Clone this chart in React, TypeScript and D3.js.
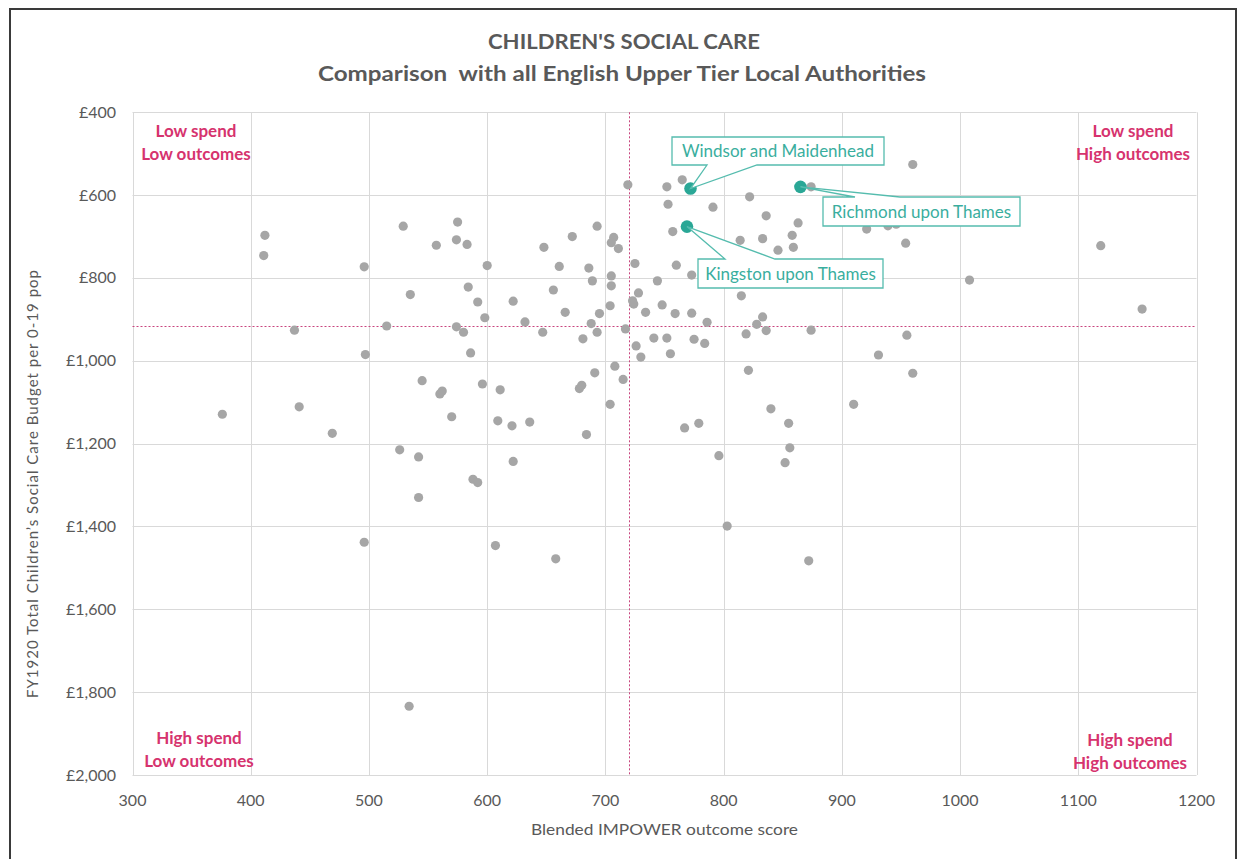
import React from "react";
import * as d3 from "d3";

// Blended IMPOWER outcome score for each English upper tier local authority
const outcomeScores: number[] = [
  376, 412, 411, 437, 441, 469, 496, 497, 496, 515, 529, 535, 526, 534, 542, 542, 545, 557, 560, 562,
  570, 575, 574, 574, 580, 583, 584, 586, 592, 598, 600, 596, 588, 592, 607, 611, 609, 621, 622, 622,
  632, 636, 647, 648, 656, 658, 661, 666, 672, 678, 680, 681, 684, 686, 688, 689, 691, 693, 693, 695,
  704, 705, 705, 707, 705, 711, 704, 708, 715, 717, 719, 723, 724, 725, 726, 728, 730, 734, 741, 744,
  748, 752, 752, 753, 755, 757, 759, 760, 765, 767, 773, 773, 775, 779, 784, 786, 791, 796, 803, 814,
  815, 819, 822, 821, 828, 833, 833, 836, 836, 840, 846, 855, 856, 852, 858, 859, 863, 872, 874, 874,
  910, 921, 931, 939, 946, 954, 955, 960, 960, 1008, 1119, 1154,
];

// FY1920 total children's social care budget per 0-19 population (£)
const budgets: number[] = [
  1129, 697, 746, 926, 1111, 1175, 773, 985, 1438, 916, 675, 840, 1215, 1834, 1232, 1330, 1048, 721, 1080, 1073,
  1135, 665, 708, 918, 931, 719, 822, 981, 858, 896, 770, 1056, 1286, 1294, 1446, 1070, 1145, 1157, 1243, 856,
  906, 1148, 931, 726, 829, 1478, 772, 883, 700, 1067, 1059, 947, 1178, 776, 910, 807, 1029, 675, 931, 886,
  867, 819, 795, 702, 715, 729, 1105, 1013, 1045, 923, 575, 855, 863, 765, 964, 836, 991, 883, 945, 807,
  865, 945, 580, 622, 983, 688, 886, 769, 563, 1162, 793, 885, 948, 1151, 958, 907, 629, 1229, 1399, 709,
  843, 935, 604, 1023, 912, 705, 894, 927, 650, 1116, 733, 1151, 1210, 1246, 697, 726, 667, 1483, 580, 926,
  1105, 682, 986, 674, 670, 716, 938, 526, 1030, 805, 722, 875,
];

// Highlighted authorities
const highlightNames: string[] = ["Windsor and Maidenhead", "Richmond upon Thames", "Kingston upon Thames"];
const highlightScores: number[] = [772, 865, 769];
const highlightBudgets: number[] = [584, 580, 676];

// Reference (median) lines
const medianScore = 720;
const medianBudget = 915;

const xTicks: number[] = [300, 400, 500, 600, 700, 800, 900, 1000, 1100, 1200];
const yTicks: number[] = [400, 600, 800, 1000, 1200, 1400, 1600, 1800, 2000];

const quadrantLabels: { lines: string[]; cx: number; cy: number }[] = [
  { lines: ["Low spend", "Low outcomes"], cx: 196, cy: 131 },
  { lines: ["Low spend", "High outcomes"], cx: 1133, cy: 131 },
  { lines: ["High spend", "Low outcomes"], cx: 199, cy: 738 },
  { lines: ["High spend", "High outcomes"], cx: 1130, cy: 740 },
];

// Callout boxes: box extent and wedge base on the edge facing the point
const callouts = [
  { x0: 672, x1: 884, y0: 137, y1: 165, side: "bottom", b0: 707, b1: 757 },
  { x0: 823, x1: 1020, y0: 197, y1: 226, side: "top", b0: 855, b1: 900 },
  { x0: 698, x1: 883, y0: 259, y1: 288, side: "top", b0: 725, b1: 775 },
];

const W = 1241;
const H = 859;
const left = 132.5;
const right = 1196.5;
const top = 112.3;
const bottom = 775;

const FONT = "Lato, 'Open Sans', sans-serif";
const GREY_TEXT = "#595959";
const PINK = "#d6336e";
const TEAL = "#2aa796";
const TEAL_LINE = "#55bcae";
const TEAL_TEXT = "#3aae9e";
const MEDIAN = "#c8457e";

const crisp = (v: number) => Math.round(v) + 0.5;

export default function App() {
  const x = d3.scaleLinear().domain([300, 1200]).range([left, right]);
  const y = d3.scaleLinear().domain([400, 2000]).range([top, bottom]);

  const points = outcomeScores.map((s, i) => ({ s, b: budgets[i] }));

  const calloutPath = (c: (typeof callouts)[number], tx: number, ty: number) => {
    if (c.side === "bottom") {
      return `M${c.x0},${c.y0}H${c.x1}V${c.y1}H${c.b1}L${tx},${ty}L${c.b0},${c.y1}H${c.x0}Z`;
    }
    return `M${c.x0},${c.y0}H${c.b0}L${tx},${ty}L${c.b1},${c.y0}H${c.x1}V${c.y1}H${c.x0}Z`;
  };

  return (
    <svg
      width={W}
      height={H}
      style={{ position: "absolute", left: 0, top: 0, background: "#fff" }}
      fontFamily={FONT}
    >
      <rect x={0} y={0} width={W} height={H} fill="#fff" />
      {/* outer frame */}
      <path d={`M10,${H}V9H1236V${H}`} fill="none" stroke="#3a3a3a" strokeWidth={2} />

      {/* titles */}
      <text
        x={624}
        y={49}
        textAnchor="middle"
        fontSize={21}
        fontWeight={700}
        fill={GREY_TEXT}
        textLength={272}
        lengthAdjust="spacingAndGlyphs"
      >
        CHILDREN'S SOCIAL CARE
      </text>
      <text
        x={622}
        y={81}
        textAnchor="middle"
        fontSize={21}
        fontWeight={700}
        fill={GREY_TEXT}
        textLength={608}
        lengthAdjust="spacingAndGlyphs"
        style={{ whiteSpace: "pre" }}
      >
        {"Comparison  with all English Upper Tier Local Authorities"}
      </text>

      {/* gridlines */}
      {xTicks.map((t) => (
        <line key={`gx${t}`} x1={crisp(x(t))} x2={crisp(x(t))} y1={top} y2={bottom} stroke="#d9d9d9" strokeWidth={1} />
      ))}
      {yTicks.map((t) => (
        <line key={`gy${t}`} x1={left} x2={right} y1={crisp(y(t))} y2={crisp(y(t))} stroke="#d9d9d9" strokeWidth={1} />
      ))}

      {/* tick labels */}
      {xTicks.map((t) => (
        <text key={`tx${t}`} x={x(t)} y={806} textAnchor="middle" fontSize={16} fill={GREY_TEXT}>
          {t}
        </text>
      ))}
      {yTicks.map((t) => (
        <text key={`ty${t}`} x={116} y={y(t) + 5.5} textAnchor="end" fontSize={16} fill={GREY_TEXT}>
          {"£" + d3.format(",")(t)}
        </text>
      ))}

      {/* axis titles */}
      <text
        x={(left + right) / 2}
        y={835}
        textAnchor="middle"
        fontSize={16}
        fill={GREY_TEXT}
        textLength={267}
        lengthAdjust="spacingAndGlyphs"
      >
        Blended IMPOWER outcome score
      </text>
      <text
        transform={`translate(38,484) rotate(-90)`}
        textAnchor="middle"
        fontSize={15}
        fill={GREY_TEXT}
        textLength={428}
        lengthAdjust="spacing"
      >
        FY1920 Total Children’s Social Care Budget per 0-19 pop
      </text>

      {/* median reference lines */}
      <line
        x1={left}
        x2={right}
        y1={crisp(y(medianBudget))}
        y2={crisp(y(medianBudget))}
        stroke={MEDIAN}
        strokeWidth={1}
        strokeDasharray="2,2"
      />
      <line
        x1={crisp(x(medianScore))}
        x2={crisp(x(medianScore))}
        y1={top}
        y2={bottom}
        stroke={MEDIAN}
        strokeWidth={1}
        strokeDasharray="2,2"
      />

      {/* all authorities */}
      {points.map((p, i) => (
        <circle key={`p${i}`} cx={x(p.s)} cy={y(p.b)} r={4.6} fill="#a6a6a6" />
      ))}

      {/* quadrant labels */}
      {quadrantLabels.map((q, i) => (
        <g key={`q${i}`}>
          {q.lines.map((l, j) => (
            <text
              key={j}
              x={q.cx}
              y={q.cy + j * 23 + 5.5}
              textAnchor="middle"
              fontSize={17}
              fontWeight={700}
              fill={PINK}
            >
              {l}
            </text>
          ))}
        </g>
      ))}

      {/* highlighted authorities */}
      {highlightNames.map((n, i) => (
        <circle key={`h${i}`} cx={x(highlightScores[i])} cy={y(highlightBudgets[i])} r={6.3} fill={TEAL} />
      ))}
      {highlightNames.map((n, i) => {
        const c = callouts[i];
        const tx = x(highlightScores[i]);
        const ty = y(highlightBudgets[i]);
        return (
          <g key={`c${i}`}>
            <path d={calloutPath(c, tx, ty)} fill="#fff" stroke={TEAL_LINE} strokeWidth={1.3} />
            <text
              x={(c.x0 + c.x1) / 2}
              y={(c.y0 + c.y1) / 2 + 6}
              textAnchor="middle"
              fontSize={17}
              fill={TEAL_TEXT}
            >
              {n}
            </text>
          </g>
        );
      })}
    </svg>
  );
}
